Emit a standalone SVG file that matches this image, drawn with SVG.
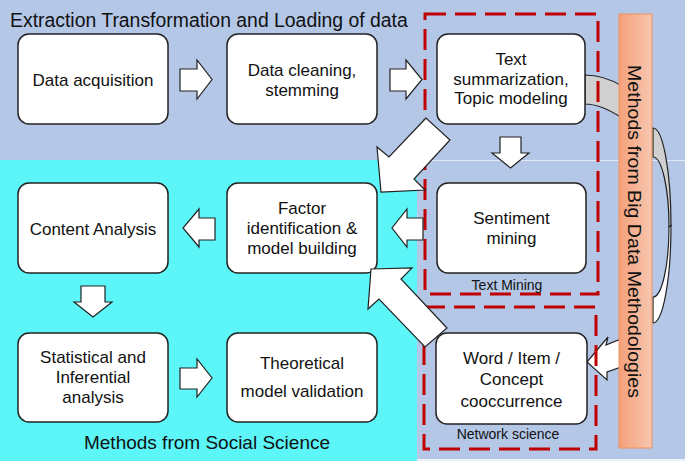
<svg xmlns="http://www.w3.org/2000/svg" width="685" height="461" viewBox="0 0 685 461">
<defs>
<linearGradient id="og" x1="0" y1="0" x2="1" y2="0">
<stop offset="0" stop-color="#F4A07B"/>
<stop offset="1" stop-color="#F8C7AF"/>
</linearGradient>
<style>
.node rect{fill:#fff;stroke:#222;stroke-width:1.5}
.node text,.lbl{font-family:"Liberation Sans",Arial,sans-serif;font-size:17px;fill:#111;text-anchor:middle}
.arr{fill:#fff;stroke:#222;stroke-width:1.2;stroke-linejoin:miter}
.dash{fill:none;stroke:#C00000;stroke-width:3;stroke-dasharray:21 9}
.big{font-family:"Liberation Sans",Arial,sans-serif;font-size:19px;fill:#111}
.small{font-family:"Liberation Sans",Arial,sans-serif;font-size:14px;fill:#111;text-anchor:middle}
</style>
</defs>
<rect x="0" y="0" width="685" height="461" fill="#B4C7E7"/>
<rect x="0" y="160" width="417" height="301" fill="#5CF6F9"/>
<line x1="417" y1="160.5" x2="685" y2="160.5" stroke="#E2E9F5" stroke-width="1.2"/>
<rect x="417" y="459" width="268" height="2" fill="#EEF2F8"/>
<text class="big" x="10" y="27" style="font-size:19.4px">Extraction Transformation and Loading of data</text>
<text class="big" x="207" y="449" text-anchor="middle">Methods from Social Science</text>

<g id="curved-arrow">
<path d="M585,75 C600,75 612,80 622,86 L622,118 C610,110 598,104 585,104 Z" fill="#D0D0D0" stroke="#222" stroke-width="1.2"/>
<path d="M653,128 A18,97.5 0 0 1 671,225.5 L669,227 A16,70 0 0 0 653,157 Z" fill="#D0D0D0" stroke="#222" stroke-width="1.2"/>
<path d="M671,225.5 A18,97.5 0 0 1 653,323 L653,297 A16,70 0 0 0 669,227 Z" fill="#fff" stroke="#222" stroke-width="1.2"/>
<polygon class="arr" points="587,362 608,337 606,345 621,339 621,367 607,372 607,380"/>
</g>

<g id="bigdata-bar">
<rect x="619" y="14" width="33" height="434" fill="url(#og)" stroke="#F0925F" stroke-width="1"/>
<text class="big" transform="translate(628,65) rotate(90)" textLength="333" lengthAdjust="spacingAndGlyphs">Methods from Big Data Methodologies</text>
</g>

<g id="text-mining-group">
<rect class="dash" x="425" y="14" width="173" height="280"/>
<text class="small" x="507" y="290">Text Mining</text>
</g>
<g id="network-science-group">
<rect class="dash" x="424" y="307" width="172" height="142"/>
<text class="small" x="508" y="439">Network science</text>
</g>

<g id="n-acq" class="node">
<rect x="18" y="34" width="150" height="90" rx="11"/>
<text x="93" y="86">Data acquisition</text>
</g>
<g id="n-clean" class="node">
<rect x="227" y="34" width="150" height="90" rx="11"/>
<text x="302" y="76">Data cleaning,</text>
<text x="302" y="96">stemming</text>
</g>
<g id="n-summ" class="node">
<rect x="437" y="34" width="148" height="90" rx="11"/>
<text x="511" y="65">Text</text>
<text x="511" y="85">summarization,</text>
<text x="511" y="104">Topic modeling</text>
</g>
<g id="n-content" class="node">
<rect x="18" y="183" width="150" height="90" rx="11"/>
<text x="93" y="235">Content Analysis</text>
</g>
<g id="n-factor" class="node">
<rect x="227" y="183" width="150" height="90" rx="11"/>
<text x="302" y="214">Factor</text>
<text x="302" y="234">identification &amp;</text>
<text x="302" y="254">model building</text>
</g>
<g id="n-sentiment" class="node">
<rect x="437" y="183" width="149" height="90" rx="11"/>
<text x="511.5" y="224">Sentiment</text>
<text x="511.5" y="244">mining</text>
</g>
<g id="n-stat" class="node">
<rect x="18" y="333" width="150" height="89" rx="11"/>
<text x="93" y="363">Statistical and</text>
<text x="93" y="383">Inferential</text>
<text x="93" y="403">analysis</text>
</g>
<g id="n-theory" class="node">
<rect x="227" y="333" width="150" height="89" rx="11"/>
<text x="302" y="369">Theoretical</text>
<text x="302" y="397">model validation</text>
</g>
<g id="n-cooc" class="node">
<rect x="436" y="333" width="151" height="91" rx="11"/>
<text x="511.5" y="364">Word / Item /</text>
<text x="511.5" y="385">Concept</text>
<text x="511.5" y="407">cooccurrence</text>
</g>

<g id="connectors">
<polygon class="arr" points="180,69 197,69 197,60 212,79.5 197,99 197,91 180,91"/>
<polygon class="arr" points="390,69 406,69 406,60 422,79.5 406,99 406,91 390,91"/>
<polygon class="arr" points="500,137 521,137 521,153 529,153 510.5,168 492,153 500,153"/>
<polygon class="arr" points="215,218 199,218 199,209 183,228 199,247 199,240 215,240"/>
<polygon class="arr" points="423,218 407,218 407,209 392,228 407,247 407,240 423,240"/>
<polygon class="arr" points="81,286 105,286 105,302 112,302 93,317 74,302 81,302"/>
<polygon class="arr" points="180,368 197,368 197,359 212,378 197,397 197,389 180,389"/>
<polygon class="arr" points="426,118 389,157 377,147 381,192 425,190 414,179 450,140"/>
<polygon class="arr" points="371,269 412,268 401,279 447,328 425,347 379,299 368,309"/>
</g>
</svg>
